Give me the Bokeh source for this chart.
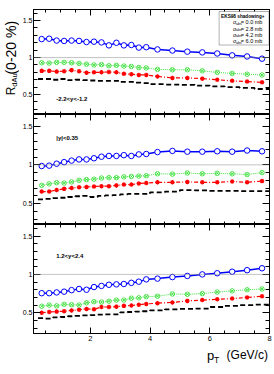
import math
from bokeh.plotting import figure
from bokeh.layouts import gridplot
from bokeh.models import (Range1d, FixedTicker, LinearAxis, Span, Label,
                          CustomJSTickFormatter, BoxAnnotation)
from bokeh.embed import file_html
from bokeh.resources import INLINE

# ---------------- data ----------------
pt_edges = [0.25, 0.5, 0.75, 1.0, 1.25, 1.5, 1.75, 2.0, 2.25, 2.5, 2.75, 3.0,
            3.25, 3.5, 3.75, 4.0, 4.5, 5.0, 5.5, 6.0, 6.5, 7.0, 7.5, 8.0]

rapidity_labels = ["-2.2<y<-1.2", "|y|<0.35", "1.2<y<2.4"]
sigma_labels = ["0.0", "2.8", "4.2", "6.0"]

# backward rapidity
bwd_0mb = [1.25, 1.255, 1.23, 1.225, 1.23, 1.225, 1.21, 1.215, 1.205, 1.165, 1.20, 1.165,
           1.17, 1.135, 1.14, 1.11, 1.095, 1.08, 1.07, 1.055, 1.03, 1.015, 0.985]
bwd_28mb = [0.93, 0.925, 0.935, 0.935, 0.93, 0.92, 0.91, 0.90, 0.905, 0.89, 0.895, 0.885,
            0.88, 0.865, 0.86, 0.84, 0.835, 0.835, 0.82, 0.80, 0.785, 0.775, 0.765]
bwd_42mb = [0.82, 0.82, 0.81, 0.815, 0.83, 0.815, 0.795, 0.80, 0.80, 0.805, 0.80, 0.78,
            0.775, 0.765, 0.765, 0.745, 0.725, 0.725, 0.715, 0.70, 0.685, 0.675, 0.665]
bwd_60mb = [0.71, 0.71, 0.70, 0.71, 0.695, 0.70, 0.695, 0.69, 0.685, 0.685, 0.685, 0.67,
            0.67, 0.66, 0.655, 0.64, 0.635, 0.63, 0.62, 0.61, 0.60, 0.59, 0.575]

# mid rapidity
mid_0mb = [0.985, 0.99, 1.015, 1.035, 1.055, 1.07, 1.07, 1.085, 1.105, 1.115, 1.115, 1.125,
           1.115, 1.135, 1.14, 1.165, 1.18, 1.17, 1.17, 1.175, 1.17, 1.185, 1.175]
mid_28mb = [0.735, 0.755, 0.77, 0.765, 0.78, 0.80, 0.81, 0.815, 0.83, 0.835, 0.835, 0.845,
            0.85, 0.855, 0.86, 0.885, 0.88, 0.895, 0.885, 0.89, 0.885, 0.875, 0.90]
mid_42mb = [0.655, 0.655, 0.675, 0.69, 0.70, 0.71, 0.715, 0.72, 0.725, 0.725, 0.735, 0.745,
            0.745, 0.76, 0.765, 0.775, 0.775, 0.78, 0.775, 0.775, 0.785, 0.775, 0.79]
mid_60mb = [0.555, 0.56, 0.57, 0.575, 0.585, 0.595, 0.60, 0.585, 0.60, 0.605, 0.61, 0.62,
            0.625, 0.625, 0.625, 0.645, 0.655, 0.675, 0.67, 0.665, 0.665, 0.66, 0.66]

# forward rapidity
fwd_0mb = [0.755, 0.755, 0.765, 0.775, 0.795, 0.81, 0.80, 0.835, 0.85, 0.865, 0.87, 0.875,
           0.89, 0.905, 0.935, 0.945, 0.965, 0.98, 1.0, 1.015, 1.035, 1.055, 1.08]
fwd_28mb = [0.585, 0.60, 0.59, 0.61, 0.605, 0.60, 0.63, 0.645, 0.64, 0.65, 0.665, 0.665,
            0.69, 0.695, 0.71, 0.715, 0.745, 0.74, 0.75, 0.77, 0.785, 0.80, 0.81]
fwd_42mb = [0.50, 0.51, 0.515, 0.52, 0.53, 0.54, 0.55, 0.545, 0.575, 0.575, 0.58, 0.59,
            0.595, 0.605, 0.615, 0.625, 0.635, 0.655, 0.665, 0.675, 0.685, 0.70, 0.715]
fwd_60mb = [0.43, 0.425, 0.44, 0.445, 0.455, 0.46, 0.465, 0.47, 0.475, 0.48, 0.48, 0.505,
            0.51, 0.515, 0.52, 0.53, 0.545, 0.55, 0.555, 0.575, 0.59, 0.60, 0.605]

panels_data = [
    (bwd_0mb, bwd_28mb, bwd_42mb, bwd_60mb),
    (mid_0mb, mid_28mb, mid_42mb, mid_60mb),
    (fwd_0mb, fwd_28mb, fwd_42mb, fwd_60mb),
]

x_major = [2, 4, 6, 8]
x_minor = [0.5, 1, 1.5, 2.5, 3, 3.5, 4.5, 5, 5.5, 6.5, 7, 7.5]
y_major = [0.5, 1.0, 1.5]
y_minor = [0.3, 0.4, 0.6, 0.7, 0.8, 0.9, 1.1, 1.2, 1.3, 1.4, 1.6]

# ---------------- style / layout ----------------
BLUE = "#0000ff"
GREEN = "#33dd33"
RED = "#ff0000"
BLACK = "#000000"
FONT = "Liberation Sans"

X0, X1 = 0.1, 8.0
Y0, Y1 = 0.23, 1.65
TW = 19            # width of the y-title strip
W = 253            # width of the panels
BL, BR = 11, 3
FRAME_L = TW + BL
FRAME_W = W - BL - BR
# (frame height, top border, bottom border, frame top in page px)
geo = [(105, 9, 0, 9), (110, 0, 0, 114), (109, 0, 11, 224)]
XT_H = 26
XT_TOP = 224 + 109 + 11

centers = [(a + b) / 2 for a, b in zip(pt_edges[:-1], pt_edges[1:])]


def px2x(px):
    return X0 + (px - FRAME_L) * (X1 - X0) / FRAME_W


def py2y(i, py):
    h, _, _, top = geo[i]
    return Y1 - (py - top) * (Y1 - Y0) / h


def blank_axis(ax):
    ax.formatter = CustomJSTickFormatter(code="return ''")
    ax.major_label_text_font_size = "0px"
    ax.major_label_standoff = 0
    ax.axis_label = None


def style_axis(ax, ticks, minor, tin, tmin):
    ax.ticker = FixedTicker(ticks=ticks, minor_ticks=minor)
    ax.major_tick_in = tin
    ax.major_tick_out = 0
    ax.minor_tick_in = tmin
    ax.minor_tick_out = 0
    ax.axis_line_color = "black"
    ax.major_tick_line_color = "black"
    ax.minor_tick_line_color = "black"
    ax.major_label_text_font = FONT
    ax.major_label_text_color = "black"


def blank_fig(w, h):
    f = figure(width=w, height=h, x_range=Range1d(0, w), y_range=Range1d(0, h),
               output_backend="svg", toolbar_location=None, x_axis_type=None,
               y_axis_type=None, min_border=0)
    f.grid.visible = False
    f.outline_line_color = None
    f.background_fill_color = "white"
    f.border_fill_color = "white"
    return f


figs = []
for i, (h, bt, bb, top) in enumerate(geo):
    p = figure(width=W, height=h + bt + bb, x_range=Range1d(X0, X1), y_range=Range1d(Y0, Y1),
               output_backend="svg", toolbar_location=None,
               min_border_left=BL, min_border_right=BR, min_border_top=bt, min_border_bottom=bb)
    p.grid.visible = False
    p.outline_line_color = "black"
    p.outline_line_width = 1
    p.background_fill_color = "white"
    p.border_fill_color = "white"

    ya = p.yaxis[0]
    style_axis(ya, y_major, y_minor, 7, 4)
    ya.major_label_text_font_size = "7px"
    ya.major_label_standoff = 1
    xa = p.xaxis[0]
    style_axis(xa, x_major, x_minor, 6, 3)
    if i == 2:
        xa.major_label_text_font_size = "7.5px"
        xa.major_label_standoff = 2
    else:
        blank_axis(xa)
    ra = LinearAxis()
    style_axis(ra, y_major, y_minor, 7, 4)
    blank_axis(ra)
    p.add_layout(ra, "right")
    ta = LinearAxis()
    style_axis(ta, x_major, x_minor, 6, 3)
    blank_axis(ta)
    p.add_layout(ta, "above")

    p.add_layout(Span(location=1.0, dimension="width", line_color="#888888",
                      line_dash="1 1", line_width=1))

    s0, s28, s42, s60 = panels_data[i]
    p.step(pt_edges, s60 + [s60[-1]], mode="after", line_color=BLACK, line_width=1.8,
           line_dash="5 3")
    p.line(centers, s42, line_color=RED, line_width=1.2, line_dash="4 2 1 2")
    p.scatter(centers, s42, marker="asterisk", size=4.5, line_color=RED, line_width=1.2)
    p.line(centers, s28, line_color=GREEN, line_width=0.9, line_dash="1 1")
    p.scatter(centers, s28, marker="circle_x", size=4.5, line_color=GREEN, fill_color=None,
              line_width=0.8)
    p.line(centers, s0, line_color=BLUE, line_width=1.5)
    p.scatter(centers, s0, marker="circle", size=5.5, line_color=BLUE, fill_color="white",
              line_width=1.0)

    ann_y = [98, 137.5, 255.3][i]
    p.add_layout(Label(x=px2x(53), y=py2y(i, ann_y), text=rapidity_labels[i],
                       text_font=FONT, text_font_style="bold", text_font_size="6px",
                       text_baseline="middle", text_align="left", text_color="black"))
    figs.append(p)

# ---------- legend (top panel) ----------
p1 = figs[0]
p1.add_layout(BoxAnnotation(left=px2x(218), right=px2x(268.5), top=py2y(0, 11),
                            bottom=py2y(0, 44.5), fill_color="white", fill_alpha=1.0,
                            line_color="black", line_width=1))
p1.add_layout(Label(x=px2x(220), y=py2y(0, 15.5), text="EKS98 shadowing+", text_font=FONT,
                    text_font_style="bold", text_font_size="4.7px", text_baseline="middle",
                    text_color="black"))
leg_styles = [(BLUE, None, 1.5), (GREEN, "1 1", 0.9), (RED, "4 2 1 2", 1.2), (BLACK, "4 2", 1.8)]
leg_y = [21.5, 28, 34.3, 40.7]
for (col, dash, lw), ly, sig in zip(leg_styles, leg_y, sigma_labels):
    yy = py2y(0, ly)
    kw = dict(line_color=col, line_width=lw)
    if dash:
        kw["line_dash"] = dash
    p1.line([px2x(220), px2x(230.5)], [yy, yy], **kw)
    p1.add_layout(Label(x=px2x(232), y=yy, text="σ", text_font=FONT, text_font_size="5.5px",
                        text_baseline="middle", text_color="black"))
    p1.add_layout(Label(x=px2x(235.2), y=py2y(0, ly + 1.6), text="abs", text_font=FONT,
                        text_font_size="3.5px", text_baseline="middle", text_color="black"))
    p1.add_layout(Label(x=px2x(240), y=yy, text="= " + sig + " mb", text_font=FONT,
                        text_font_size="5.5px", text_baseline="middle", text_color="black"))

# ---------- y-axis title strip (rotated, reads bottom to top) ----------
YT_H = geo[0][0] + geo[0][1]
yt = blank_fig(TW, YT_H)
yt.add_layout(Label(x=10.5, y=YT_H - 88.5, text="R", angle=math.pi / 2,
                    text_font=FONT, text_font_size="12px", text_baseline="middle",
                    text_align="center", text_color="black"))
yt.add_layout(Label(x=13.8, y=YT_H - 76.5, text="dAu", angle=math.pi / 2,
                    text_font=FONT, text_font_size="7.5px", text_baseline="middle",
                    text_align="center", text_color="black"))
yt.add_layout(Label(x=10.0, y=YT_H - 41.5, text="(0-20 %)", angle=math.pi / 2,
                    text_font=FONT, text_font_size="14px", text_baseline="middle",
                    text_align="center", text_color="black"))

# ---------- x-axis title strip ----------
xt = blank_fig(W, XT_H)
xt.add_layout(Label(x=205 - TW, y=XT_TOP + XT_H - 354.5, text="p", text_font=FONT,
                    text_font_size="13px", text_baseline="alphabetic", text_color="black"))
xt.add_layout(Label(x=212.5 - TW, y=XT_TOP + XT_H - 359.5, text="T", text_font=FONT,
                    text_font_size="8.5px", text_baseline="alphabetic", text_color="black"))
xt.add_layout(Label(x=226 - TW, y=XT_TOP + XT_H - 354.5, text="(GeV/c)", text_font=FONT,
                    text_font_size="12px", text_baseline="alphabetic", text_color="black"))

grid = gridplot([[yt, figs[0]], [None, figs[1]], [None, figs[2]], [None, xt]],
                toolbar_location=None)
open("out.html", "w").write(file_html(grid, INLINE))
